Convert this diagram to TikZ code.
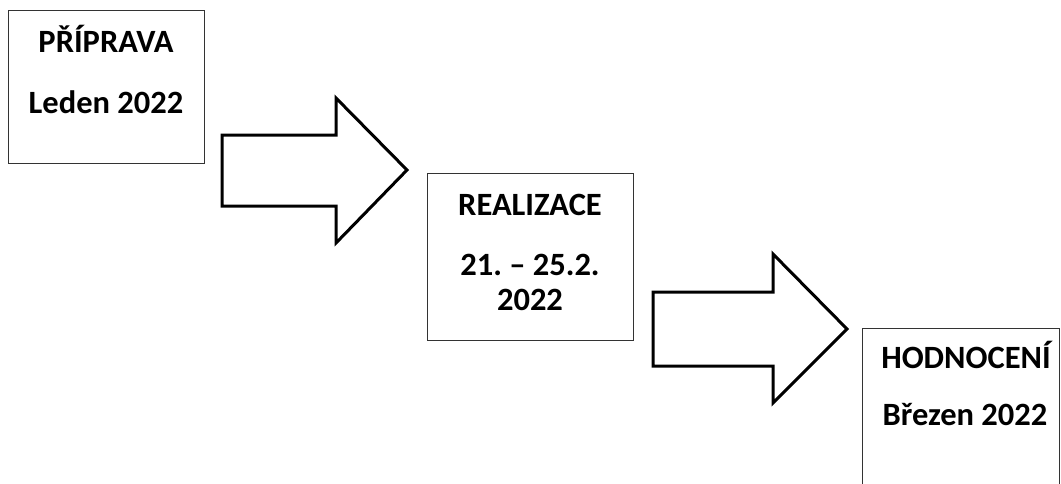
\documentclass[tikz,border=0pt]{standalone}
\usepackage{fontspec}
\setmainfont{Carlito}
\frenchspacing
\begin{document}
\begin{tikzpicture}[x=1pt,y=-1pt,
  boxline/.style={draw=black!80, line width=1.3pt},
  arrowline/.style={draw=black, line width=3pt, line join=miter},
  lbl/.style={font=\fontsize{32.5}{40}\selectfont\bfseries, anchor=base, inner sep=0pt}]
\useasboundingbox (0,0) rectangle (1061,483);
\clip (0,0) rectangle (1061,483);
% boxes
\node[boxline, minimum width=196pt, minimum height=153pt, inner sep=0pt, anchor=north west] (b1) at (8,10) {};
\node[boxline, minimum width=206pt, minimum height=167pt, inner sep=0pt, anchor=north west] (b2) at (427,173) {};
\node[boxline, minimum width=197pt, minimum height=200pt, inner sep=0pt, anchor=north west] (b3) at (862,328) {};
% texts
\node[lbl] (t1a) at (106,52) {PŘÍPRAVA};
\node[lbl] (t1b) at (106,113) {Leden 2022};
\node[lbl] (t2a) at (530,215) {REALIZACE};
\node[lbl] (t2b) at (530,275) {21.~– 25.2.};
\node[lbl] (t2c) at (530,310) {2022};
\node[lbl] (t3a) at (966,368) {HODNOCENÍ};
\node[lbl] (t3b) at (965,425) {Březen 2022};
% block arrows
\draw[arrowline] (222,135) -- (336,135) -- (336,98) -- (407,170) -- (336,243) -- (336,206) -- (222,206) -- cycle;
\draw[arrowline] (653,292) -- (773,292) -- (773,254) -- (847,329) -- (773,403) -- (773,366) -- (653,366) -- cycle;
\end{tikzpicture}
\end{document}
